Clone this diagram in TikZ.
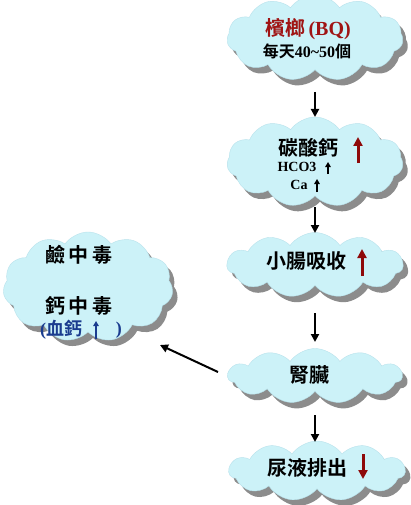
\documentclass[tikz,border=0pt]{standalone}
\usepackage{fontspec}
\setmainfont{Liberation Serif}
\newfontfamily\cjk{Noto Sans CJK TC}[BoldFont={Noto Sans CJK TC Bold}]
\usetikzlibrary{shapes.symbols,shadows,arrows.meta}
\definecolor{cloudfill}{HTML}{CCF2F8}
\definecolor{cloudedge}{HTML}{B8E2EC}
\definecolor{arrred}{HTML}{8E0A0A}
\definecolor{titlered}{HTML}{A01414}
\definecolor{bluetxt}{HTML}{1A3C8F}
\newcommand\lat[1]{{\rmfamily\bfseries #1}}
\begin{document}
\begin{tikzpicture}[x=1pt,y=-1pt,
  cloudbox/.style={cloud, cloud puffs=11, cloud puff arc=110, cloud ignores aspect,
    fill=cloudfill, draw=cloudedge, line width=0.4pt, inner sep=0pt,
    drop shadow={shadow xshift=5pt, shadow yshift=-6pt, fill=black!45, opacity=1}},
  txt/.style={font=\cjk\bfseries\fontsize{20}{22}\selectfont, inner sep=0pt},
  small/.style={font=\cjk\bfseries\fontsize{16}{18}\selectfont, inner sep=0pt},
  flow/.style={line width=2pt, -{Triangle[length=8pt,width=8pt]}},
  bigup/.style={line width=3pt, color=arrred, -{Triangle[length=9pt,width=9pt]}},
  tinyup/.style={line width=1.6pt, -{Triangle[length=5pt,width=5.5pt]}},
]
\useasboundingbox (0,0) rectangle (410,505);
\fill[white] (0,0) rectangle (410,505);

% clouds
\node[cloudbox, minimum width=176pt, minimum height=86pt] (c1) at (315,38) {};
\node[cloudbox, minimum width=176pt, minimum height=90pt] (c2) at (315,162) {};
\node[cloudbox, minimum width=176pt, minimum height=65pt] (c3) at (315,265) {};
\node[cloudbox, minimum width=170pt, minimum height=110pt] (c4) at (88,287) {};
\node[cloudbox, minimum width=174pt, minimum height=55pt] (c5) at (315,376) {};
\node[cloudbox, minimum width=176pt, minimum height=60pt] (c6) at (317,471) {};

% texts
\node[txt, text=titlered] (t1) at (308,29) {檳榔\,\lat{(BQ)}};
\node[small] (t2) at (307,51) {每天\lat{40\textasciitilde 50}個};
\node[txt] (t3) at (308,148) {碳酸鈣};
\node[font=\rmfamily\bfseries\fontsize{14}{16}\selectfont, inner sep=0pt] (t4) at (297,167) {HCO3};
\node[font=\rmfamily\bfseries\fontsize{14}{16}\selectfont, inner sep=0pt] (t5) at (299,185) {Ca};
\node[txt] (t6) at (306,261) {小腸吸收};
\node[txt] (t7) at (79,255) {鹼\,中\,毒};
\node[txt] (t8) at (79,306) {鈣\,中\,毒};
\node[txt, text=bluetxt, anchor=west, font=\cjk\bfseries\fontsize{18}{20}\selectfont] (t9) at (40,330) {\lat{(}血鈣};
\node[txt, text=bluetxt, anchor=east, font=\cjk\bfseries\fontsize{18}{20}\selectfont] (t10) at (122,330) {\lat{)}};
\node[txt] (t11) at (309,375) {腎臟};
\node[txt] (t12) at (307,468) {尿液排出};

% symbol arrows
\draw[bigup] (358,163) -- (358,137);
\draw[tinyup] (328,174) -- (328,162);
\draw[tinyup] (317,192) -- (317,179);
\draw[bigup] (362,276) -- (362,249);
\draw[tinyup, color=bluetxt, line width=2.2pt] (96,339) -- (96,321);
\draw[bigup] (363,454) -- (363,479);

% connectors
\draw[flow] ([yshift=-54pt]c1.center) -- ([yshift=45pt]c2.center);
\draw[flow] ([yshift=-45pt]c2.center) -- ([yshift=32pt]c3.center);
\draw[flow] ([yshift=-48pt]c3.center) -- ([yshift=34pt]c5.center);
\draw[flow] ([yshift=-39pt]c5.center) -- ([xshift=-2pt,yshift=29pt]c6.center);
\draw[flow] ([xshift=-97pt,yshift=4pt]c5.center) -- ([xshift=72pt,yshift=-58pt]c4.center);
\end{tikzpicture}
\end{document}
